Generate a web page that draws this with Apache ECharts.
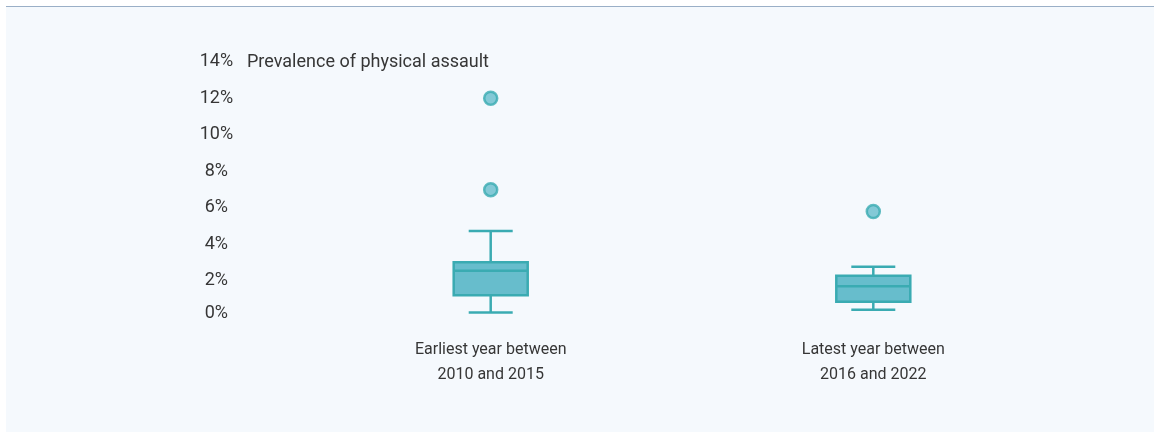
<!DOCTYPE html>
<html>
<head>
<meta charset="utf-8">
<script src="https://cdn.jsdelivr.net/npm/echarts@6/dist/echarts.min.js"></script>
<style>
  html, body { margin: 0; padding: 0; background: #ffffff; }
  #panel {
    position: absolute; left: 6px; top: 6px; width: 1148px; height: 426px;
    background: #f5f9fd; border-top: 1.5px solid #9aafc7; box-sizing: border-box;
  }
  #chart { position: absolute; left: 0; top: 0; width: 1159px; height: 432px; }
</style>
</head>
<body>
<div id="panel"></div>
<div id="chart"></div>
<script>
// Periods compared
const categories = ['Earliest year between\n2010 and 2015', 'Latest year between\n2016 and 2022'];
// Box statistics per period, in percent: [min, Q1, median, Q3, max]
const boxStats = [
  [0.28, 1.22, 2.56, 3.02, 4.73],
  [0.43, 0.86, 1.71, 2.29, 2.78]
];
// Outliers: [period index, value in percent]
const outliers = [
  [0, 12.0],
  [0, 7.0],
  [1, 5.8]
];
// Y axis ticks (percent)
const yTicks = [0, 2, 4, 6, 8, 10, 12, 14];

const teal = '#3aabb2';
const fill = '#67bdcc';
const textColor = '#363636';
const FONT = 'Roboto, "Noto Sans", sans-serif';

const boxData = boxStats.map((s, i) => [i].concat(s));

const chart = echarts.init(document.getElementById('chart'));
chart.setOption({
  backgroundColor: 'transparent',
  animation: false,
  title: {
    text: 'Prevalence of physical assault',
    left: 247, top: 51, padding: 0,
    textStyle: { fontFamily: FONT, fontSize: 18, fontWeight: 'normal', color: textColor, lineHeight: 22 }
  },
  grid: { left: 299.4, right: 94.4, top: 61.8, bottom: 114.5 },
  xAxis: {
    type: 'category',
    data: categories,
    axisLine: { show: false },
    axisTick: { show: false },
    axisLabel: { fontFamily: FONT, fontSize: 16, lineHeight: 25, color: textColor, margin: 20 }
  },
  yAxis: {
    type: 'value',
    min: yTicks[0], max: yTicks[yTicks.length - 1], interval: 2,
    splitLine: { show: false },
    axisLine: { show: false },
    axisTick: { show: false },
    axisLabel: {
      fontFamily: FONT, fontSize: 18, color: textColor, align: 'center', margin: 83,
      formatter: v => v === 0 ? '{z|0%}' : v + '%',
      rich: { z: { fontFamily: FONT, fontSize: 18, color: textColor, padding: [0, 0, 8, 0] } }
    }
  },
  series: [
    {
      type: 'custom',
      data: boxData,
      encode: { x: 0, y: [1, 2, 3, 4, 5] },
      renderItem: function (params, api) {
        const c = api.value(0);
        const pMin = api.coord([c, api.value(1)]);
        const pQ1 = api.coord([c, api.value(2)]);
        const pMed = api.coord([c, api.value(3)]);
        const pQ3 = api.coord([c, api.value(4)]);
        const pMax = api.coord([c, api.value(5)]);
        const x = pMin[0];
        const bw = 74, cw = 44;
        const ls = { stroke: teal, lineWidth: 2.5 };
        return {
          type: 'group',
          children: [
            { type: 'line', shape: { x1: x, y1: pMin[1], x2: x, y2: pQ1[1] }, style: ls },
            { type: 'line', shape: { x1: x, y1: pQ3[1], x2: x, y2: pMax[1] }, style: ls },
            { type: 'line', shape: { x1: x - cw / 2, y1: pMin[1], x2: x + cw / 2, y2: pMin[1] }, style: ls },
            { type: 'line', shape: { x1: x - cw / 2, y1: pMax[1], x2: x + cw / 2, y2: pMax[1] }, style: ls },
            { type: 'rect', shape: { x: x - bw / 2, y: pQ3[1], width: bw, height: pQ1[1] - pQ3[1] },
              style: { fill: fill, stroke: teal, lineWidth: 2.5 } },
            { type: 'line', shape: { x1: x - bw / 2, y1: pMed[1], x2: x + bw / 2, y2: pMed[1] }, style: ls }
          ]
        };
      }
    },
    {
      type: 'scatter',
      data: outliers,
      symbolSize: 13,
      itemStyle: { color: fill, borderColor: teal, borderWidth: 2.5 }
    }
  ]
});
</script>
</body>
</html>
